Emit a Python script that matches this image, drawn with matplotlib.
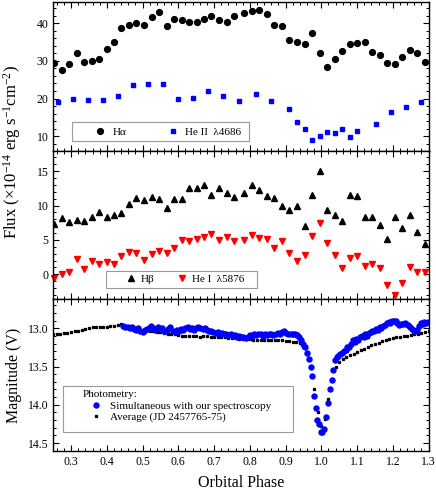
import matplotlib
matplotlib.use("Agg")
import matplotlib.pyplot as plt
from matplotlib.patches import Rectangle
from matplotlib.ticker import MultipleLocator, FormatStrFormatter

plt.rcParams['font.family'] = ['Liberation Serif', 'DejaVu Serif']
plt.rcParams['mathtext.fontset'] = 'custom'
plt.rcParams['mathtext.rm'] = 'Liberation Serif'
plt.rcParams['mathtext.it'] = 'Liberation Serif:italic'

# spectroscopic phases (H alpha, H beta, He I)
phase_spec = [0.253, 0.274, 0.295, 0.316, 0.337, 0.358, 0.379, 0.400, 0.421, 0.441,
              0.462, 0.483, 0.505, 0.526, 0.547, 0.567, 0.589, 0.610, 0.631, 0.651,
              0.672, 0.692, 0.714, 0.735, 0.756, 0.784, 0.805, 0.827, 0.848, 0.869,
              0.889, 0.910, 0.931, 0.953, 0.974, 0.995, 1.015, 1.037, 1.058, 1.079,
              1.100, 1.121, 1.142, 1.163, 1.184, 1.205, 1.225, 1.247, 1.267, 1.289]

halpha = [29.5, 27.6, 29.1, 32.1, 29.8, 29.9, 30.6, 33.0, 34.9, 38.8,
          39.6, 40.1, 39.6, 41.7, 43.0, 39.3, 41.2, 40.7, 40.3, 40.3,
          41.1, 42.0, 40.7, 40.2, 42.0, 42.6, 43.3, 43.5, 42.5, 39.6,
          39.2, 35.5, 34.9, 34.4, 37.5, 32.1, 28.4, 30.6, 32.7, 34.4,
          34.6, 35.0, 32.4, 31.5, 29.4, 29.2, 31.0, 32.8, 32.1, 29.7]

hbeta = [7.3, 8.2, 7.6, 7.9, 7.7, 8.4, 9.1, 8.4, 8.7, 8.9,
         10.2, 11.1, 10.8, 11.3, 11.0, 9.6, 11.0, 11.0, 12.6, 12.6,
         13.0, 11.6, 12.5, 11.9, 11.3, 11.8, 13.0, 12.2, 11.4, 11.1,
         10.0, 9.4, 9.9, 7.0, 11.6, 15.1, 9.4, 8.7, 7.7, 11.6,
         11.4, 8.3, 8.3, 7.2, 5.2, 8.3, 6.8, 8.7, 6.2, 4.4]

hei = [-0.5, 0.1, 0.4, 2.2, 0.8, 2.0, 1.5, 1.8, 1.5, 2.7,
       3.3, 3.1, 2.1, 2.9, 3.4, 3.1, 3.9, 5.0, 4.8, 5.2,
       5.5, 5.9, 5.0, 5.5, 4.9, 5.0, 5.7, 5.3, 5.2, 3.8,
       4.9, 3.1, 1.9, 2.8, 5.6, 7.4, 4.6, 2.8, 0.9, 2.4,
       2.6, 1.2, 1.5, 0.9, -1.5, -3.0, -1.3, 1.1, 0.3, 0.4]

phase_heii = [0.263, 0.305, 0.347, 0.389, 0.431, 0.473, 0.515, 0.557, 0.599, 0.641,
              0.683, 0.725, 0.771, 0.816, 0.858, 0.910, 0.932, 0.953, 0.974, 0.995,
              1.015, 1.037, 1.058, 1.079, 1.100, 1.152, 1.195, 1.237, 1.279]
heii = [19.2, 19.8, 19.5, 19.5, 20.7, 23.6, 23.9, 23.9, 19.8, 20.2,
        21.9, 20.6, 19.3, 21.1, 19.3, 17.1, 13.9, 11.8, 9.0, 10.1,
        11.2, 10.8, 11.8, 9.8, 11.4, 13.3, 16.3, 17.8, 19.2]

# photometry simultaneous with spectroscopy
phase_sim = [0.445, 0.452, 0.458, 0.464, 0.470, 0.476, 0.482, 0.488, 0.494, 0.500,
             0.506, 0.512, 0.518, 0.524, 0.530, 0.536, 0.542, 0.548, 0.554, 0.560,
             0.566, 0.572, 0.578, 0.584, 0.590, 0.596, 0.602, 0.608, 0.614, 0.620,
             0.626, 0.632, 0.638, 0.644, 0.650, 0.656, 0.662, 0.668, 0.674, 0.680,
             0.686, 0.692, 0.698, 0.704, 0.710, 0.716, 0.722, 0.728, 0.734, 0.740,
             0.746, 0.752, 0.758, 0.764, 0.770, 0.776, 0.782, 0.788, 0.794, 0.800,
             0.806, 0.812, 0.818, 0.824, 0.830, 0.836, 0.842, 0.848, 0.854, 0.860,
             0.866, 0.872, 0.878, 0.884, 0.890, 0.896, 0.902, 0.908, 0.914, 0.920,
             0.926, 0.932, 0.938, 0.944, 0.950, 0.955, 0.960, 0.965, 0.970, 0.975,
             0.980, 0.984, 0.989, 0.993, 0.998, 1.003, 1.008, 1.014, 1.019, 1.024,
             1.029, 1.034, 1.038, 1.043, 1.048, 1.053, 1.058, 1.063, 1.068, 1.073,
             1.078, 1.083, 1.088, 1.093, 1.098, 1.103, 1.108, 1.113, 1.118, 1.123,
             1.128, 1.133, 1.138, 1.143, 1.148, 1.153, 1.158, 1.163, 1.168, 1.173,
             1.178, 1.183, 1.188, 1.193, 1.198, 1.203, 1.208, 1.213, 1.218, 1.223,
             1.228, 1.233, 1.238, 1.243, 1.248, 1.253, 1.258, 1.263, 1.268, 1.273,
             1.278, 1.283, 1.288, 1.293, 1.298]
mag_sim = [12.97, 12.98, 12.99, 13.00, 12.99, 13.01, 13.02, 13.00, 13.03, 13.05,
           13.02, 13.01, 13.00, 12.97, 13.00, 13.02, 12.99, 13.01, 13.00, 13.03,
           13.04, 13.01, 12.99, 13.03, 13.05, 13.02, 13.04, 13.01, 13.02, 13.00,
           12.99, 13.01, 13.00, 13.02, 13.00, 12.99, 13.00, 13.01, 13.00, 13.02,
           13.04, 13.03, 13.05, 13.06, 13.05, 13.07, 13.06, 13.08, 13.07, 13.09,
           13.08, 13.10, 13.09, 13.11, 13.10, 13.12, 13.11, 13.13, 13.11, 13.09,
           13.10, 13.08, 13.09, 13.07, 13.08, 13.10, 13.08, 13.09, 13.07, 13.08,
           13.09, 13.07, 13.06, 13.08, 13.05, 13.03, 13.06, 13.07, 13.08, 13.07,
           13.08, 13.09, 13.11, 13.15, 13.20, 13.25, 13.32, 13.40, 13.50, 13.62,
           13.88, 14.04, 14.20, 14.25, 14.36, 14.35, 14.32, 14.16, 13.97, 13.80,
           13.68, 13.55, 13.41, 13.38, 13.36, 13.34, 13.32, 13.30, 13.28, 13.24,
           13.25, 13.20, 13.16, 13.18, 13.14, 13.15, 13.12, 13.10, 13.12, 13.08,
           13.10, 13.06, 13.05, 13.03, 13.04, 13.01, 13.02, 12.99, 13.00, 12.97,
           12.96, 12.93, 12.92, 12.93, 12.91, 12.90, 12.91, 12.93, 12.96, 12.94,
           12.95, 12.93, 12.94, 12.96, 12.98, 13.01, 13.03, 13.04, 13.02, 12.97,
           12.93, 12.94, 12.92, 12.93, 12.92]

# average light curve (JD 2457765-75)
phase_avg = [0.25, 0.26, 0.27, 0.28, 0.29, 0.30, 0.31, 0.32, 0.33, 0.34,
             0.35, 0.36, 0.37, 0.38, 0.39, 0.40, 0.41, 0.42, 0.43, 0.44,
             0.45, 0.46, 0.47, 0.48, 0.49, 0.50, 0.51, 0.52, 0.53, 0.54,
             0.55, 0.56, 0.57, 0.58, 0.59, 0.60, 0.61, 0.62, 0.63, 0.64,
             0.65, 0.66, 0.67, 0.68, 0.69, 0.70, 0.71, 0.72, 0.73, 0.74,
             0.75, 0.76, 0.77, 0.78, 0.79, 0.80, 0.81, 0.82, 0.83, 0.84,
             0.85, 0.86, 0.87, 0.88, 0.89, 0.90, 0.91, 0.92, 0.93, 0.94,
             0.95, 0.96, 0.97, 0.98, 0.99, 1.00, 1.01, 1.02, 1.03, 1.04,
             1.05, 1.06, 1.07, 1.08, 1.09, 1.10, 1.11, 1.12, 1.13, 1.14,
             1.15, 1.16, 1.17, 1.18, 1.19, 1.20, 1.21, 1.22, 1.23, 1.24,
             1.25, 1.26, 1.27, 1.28, 1.29, 1.30]
mag_avg = [13.08, 13.07, 13.07, 13.06, 13.06, 13.05, 13.04, 13.03, 13.02, 13.01,
           13.00, 12.99, 12.99, 12.98, 12.98, 12.98, 12.97, 12.97, 12.96, 12.95,
           12.97, 12.99, 13.00, 13.01, 13.02, 13.03, 13.03, 13.04, 13.04, 13.05,
           13.05, 13.06, 13.07, 13.08, 13.08, 13.09, 13.10, 13.10, 13.10, 13.10,
           13.10, 13.11, 13.10, 13.10, 13.11, 13.11, 13.12, 13.12, 13.12, 13.13,
           13.13, 13.13, 13.14, 13.14, 13.14, 13.14, 13.15, 13.15, 13.15, 13.15,
           13.16, 13.16, 13.16, 13.16, 13.16, 13.17, 13.17, 13.18, 13.18, 13.19,
           13.24, 13.33, 13.52, 13.80, 14.10, 14.28, 14.18, 13.92, 13.66, 13.50,
           13.44, 13.40, 13.37, 13.35, 13.33, 13.31, 13.29, 13.27, 13.24, 13.22,
           13.20, 13.19, 13.17, 13.15, 13.14, 13.13, 13.12, 13.11, 13.10, 13.10,
           13.09, 13.08, 13.07, 13.06, 13.05, 13.04]

fig = plt.figure(figsize=(4.36, 4.91), dpi=100)
gs = fig.add_gridspec(3, 1, height_ratios=[148, 148, 151], hspace=0,
                      left=0.122, right=0.983, top=0.996, bottom=0.082)
ax1 = fig.add_subplot(gs[0])
ax2 = fig.add_subplot(gs[1], sharex=ax1)
ax3 = fig.add_subplot(gs[2], sharex=ax1)

leg_kw = dict(frameon=False, fontsize=8, borderpad=0, borderaxespad=0,
              handletextpad=0.1)


def legend_frame(ax, x0, y0, w, h):
    # plain grey box drawn behind the legend entries
    ax.add_patch(Rectangle((x0, y0), w, h, transform=ax.transAxes, facecolor='white',
                           edgecolor='0.6', lw=0.8, zorder=4))


# emission lines H alpha / He II
ax1.plot(phase_spec, halpha, 'o', color='black', ms=4.2, label='Hα')
ax1.plot(phase_heii, heii, 's', color='blue', ms=3.4, label='He II  λ4686')
ax1.set_ylim(6.2, 45.6)
ax1.yaxis.set_major_locator(MultipleLocator(10))
ax1.yaxis.set_minor_locator(MultipleLocator(2))
legend_frame(ax1, 0.050, 0.061, 0.4715, 0.128)
ax1.legend(loc='center left', bbox_to_anchor=(0.0956, 0.125), ncol=2,
           columnspacing=3.2, handlelength=2.0, **leg_kw)

# H beta / He I
ax2.plot(phase_spec, hbeta, '^', color='black', ms=4.5, label='Hβ')
ax2.plot(phase_spec, hei, 'v', color='red', ms=4.5, label='He I  λ5876',
         clip_on=False)
ax2.set_ylim(-3.6, 18.0)
ax2.yaxis.set_major_locator(MultipleLocator(5))
ax2.yaxis.set_minor_locator(MultipleLocator(1))
legend_frame(ax2, 0.141, 0.076, 0.403, 0.113)
ax2.legend(loc='center left', bbox_to_anchor=(0.1854, 0.133), ncol=2,
           columnspacing=1.75, handlelength=1.5, **leg_kw)

# photometry
ax3.plot(phase_avg, mag_avg, 's', color='black', ms=1.4,
         label='Average (JD 2457765-75)')
ax3.plot(phase_sim, mag_sim, 'o', color='blue', ms=3.6,
         label='Simultaneous with our spectroscopy')
ax3.set_ylim(14.6, 12.62)
ax3.yaxis.set_major_locator(MultipleLocator(0.5))
ax3.yaxis.set_minor_locator(MultipleLocator(0.1))
ax3.yaxis.set_major_formatter(FormatStrFormatter('%.1f'))
legend_frame(ax3, 0.026, 0.126, 0.613, 0.304)
h, lab = ax3.get_legend_handles_labels()
l3 = ax3.legend(h[::-1], lab[::-1], loc='upper left', bbox_to_anchor=(0.0797, 0.40),
                title='Photometry:', title_fontsize=8, alignment='left',
                handlelength=2.3, labelspacing=0.1, **leg_kw)
l3._legend_box.sep = 1.5
ax3.set_xlabel('Orbital Phase', fontsize=11.5, labelpad=5)
ax3.set_ylabel('Magnitude (V)', fontsize=11.5)

ax1.set_xlim(0.25, 1.3)
ax3.xaxis.set_major_locator(MultipleLocator(0.1))
ax3.xaxis.set_minor_locator(MultipleLocator(0.02))
ax3.xaxis.set_major_formatter(FormatStrFormatter('%.1f'))

for ax in (ax1, ax2, ax3):
    ax.tick_params(which='both', direction='in', top=True, right=True, labelsize=8.5)
    ax.tick_params(which='major', length=4.5, width=0.8)
    ax.tick_params(which='minor', length=2.5, width=0.7)
    for s in ax.spines.values():
        s.set_linewidth(1.0)
for ax in (ax1, ax2):
    plt.setp(ax.get_xticklabels(), visible=False)

fig.text(0.028, 0.69, r'Flux (×10$^{-14}$ erg s$^{-1}$cm$^{-2}$)',
         rotation=90, ha='center', va='center', fontsize=12)

fig.savefig('out.png', dpi=100)
